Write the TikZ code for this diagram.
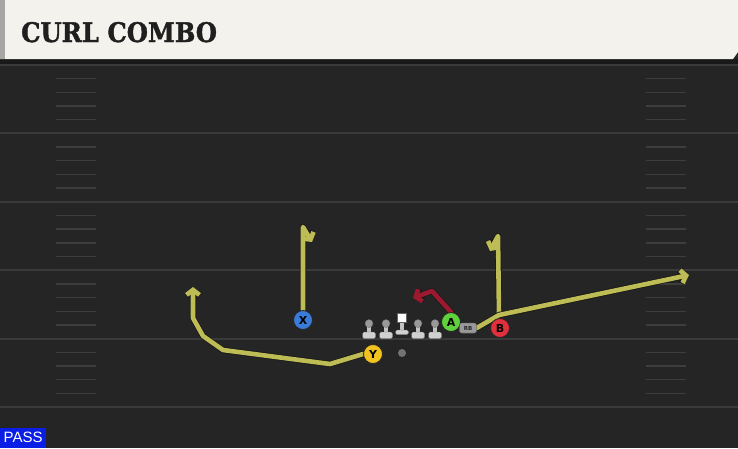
\documentclass[tikz,border=0pt]{standalone}
\usepackage{fontspec}
\setmainfont{DejaVu Serif}
\newfontfamily\titlefont[FakeBold=1.5]{DejaVu Serif Bold}
\newfontfamily\passfont{Liberation Sans}
\newfontfamily\lblfont{DejaVu Sans}
\usetikzlibrary{arrows.meta}
\definecolor{field}{HTML}{252525}
\definecolor{yardline}{HTML}{3A3A3A}
\definecolor{hashc}{HTML}{3D3D3D}
\definecolor{cream}{HTML}{F4F2EC}
\definecolor{routeY}{HTML}{BDBC55}
\definecolor{routeR}{HTML}{9C1A30}
\definecolor{pblue}{HTML}{3B7BD8}
\definecolor{pgreen}{HTML}{5ED13C}
\definecolor{pred}{HTML}{E0303C}
\definecolor{pyellow}{HTML}{F2C21E}
\definecolor{passblue}{HTML}{0A1EE6}
\definecolor{olgrey}{HTML}{C4C4C4}
\tikzset{
  route/.style={draw=routeY, line width=4.6pt, line join=round, line cap=round,
    preaction={draw=black!90, line width=6.2pt, line join=round, line cap=round}},
  redroute/.style={draw=routeR, line width=4.6pt, line join=round, line cap=round,
    preaction={draw=black!90, line width=6.2pt, line join=round, line cap=round}},
  rtip/.style={-{Straight Barb[length=5pt,width=13pt]}},
  player/.style={circle, minimum size=19pt, inner sep=0pt, draw=black!85, line width=0.8pt,
    font=\lblfont\bfseries\fontsize{11}{11}\selectfont},
  rbbox/.style={draw=black!70, fill=black!40, rounded corners=2pt, minimum width=17pt, minimum height=10pt,
    inner sep=0pt, text=black!85, font=\lblfont\bfseries\fontsize{5.5}{5.5}\selectfont},
  yard/.style={draw=yardline, line width=2pt},
  hashm/.style={draw=hashc, line width=1.4pt},
}
\begin{document}
\begin{tikzpicture}[x=1pt,y=-1pt]
\useasboundingbox (0,0) rectangle (738,448);
% field
\fill[field] (0,0) rectangle (738,448);
% yard lines
\foreach \yy in {65,133.4,201.8,270.2,338.6,407} {
  \draw[yard] (0,\yy) -- (738,\yy);
}
% hash marks
\foreach \base in {65,133.4,201.8,270.2,338.6} {
  \foreach \k in {1,2,3,4} {
    \draw[hashm] (56,\base+\k*13.68) -- (96,\base+\k*13.68);
    \draw[hashm] (646,\base+\k*13.68) -- (686,\base+\k*13.68);
  }
}
% header
\fill[black!90] (0,59) rectangle (738,64);
\fill[cream] (0,0) -- (738,0) -- (738,52) -- (733,59) -- (0,59) -- cycle;
\fill[black!35] (0,0) rectangle (5,59);
\node[anchor=base west, inner sep=0pt, text=black!88, xscale=0.9, transform shape,
  font=\titlefont\fontsize{27}{27}\selectfont] (title) at (21,42) {CURL COMBO};
% PASS tag
\node[fill=passblue, text=white, anchor=south west, minimum width=46pt, minimum height=20pt,
  inner sep=0pt, font=\passfont\fontsize{15}{15}\selectfont] (pass) at (0,448) {PASS};

% route coordinates
\coordinate (xtop) at (303,227);
\coordinate (xend) at (312,242);
\coordinate (y1) at (330,364);
\coordinate (y2) at (223,350);
\coordinate (y3) at (203,336);
\coordinate (y4) at (193,318);
\coordinate (yend) at (193,287);
\coordinate (jn) at (499,315);
\coordinate (btop) at (498,236);
\coordinate (bend) at (490,251);
\coordinate (fend) at (689,275);
\coordinate (r1) at (432,291);
\coordinate (rend) at (413,298);

% players
\node[player, fill=pblue] (X) at (303,320) {X};
\node[player, fill=pyellow] (Y) at (373,354) {Y};
\node[player, fill=pgreen] (A) at (451,322) {A};
\node[player, fill=pred] (B) at (500,328) {B};
\node[rbbox] (RB) at (468,328) {RB};
\node[circle, fill=black!55, minimum size=8pt, inner sep=0pt] (QB) at (402,353) {};

% routes
\draw[route, rtip] (X.north) -- (xtop) -- (xend);
\draw[route, rtip] (Y.west) -- (y1) -- (y2) -- (y3) -- (y4) -- (yend);
\draw[route, rtip] (jn) -- (btop) -- (bend);
\draw[route, rtip] (RB.east) -- (jn) -- (fend);
\draw[redroute, rtip] (A.north) -- (r1) -- (rend);
% redraw players over routes
\node[player, fill=pblue] at (X) {X};
\node[player, fill=pyellow] at (Y) {Y};
\node[player, fill=pgreen] at (A) {A};
\node[player, fill=pred] at (B) {B};
\node[rbbox] at (RB) {RB};

% linemen
\foreach \lx in {369,386,418,435} {
  \fill[olgrey] (\lx-2,323) rectangle (\lx+2,333);
  \fill[olgrey!80!white, draw=black!60, line width=0.3pt, rounded corners=1.5pt] (\lx-6.5,332) rectangle (\lx+6.5,338.5);
  \fill[black!40, draw=black!60, line width=0.3pt] (\lx,323.5) circle (4);
}
\fill[olgrey] (400,320) rectangle (404,332);
\fill[olgrey!80!white, draw=black!60, line width=0.3pt, rounded corners=1.5pt] (395.5,330) rectangle (408.5,334.5);
\fill[white, draw=black!60, line width=0.3pt] (397.5,313) rectangle (406.5,322);
\end{tikzpicture}
\end{document}
